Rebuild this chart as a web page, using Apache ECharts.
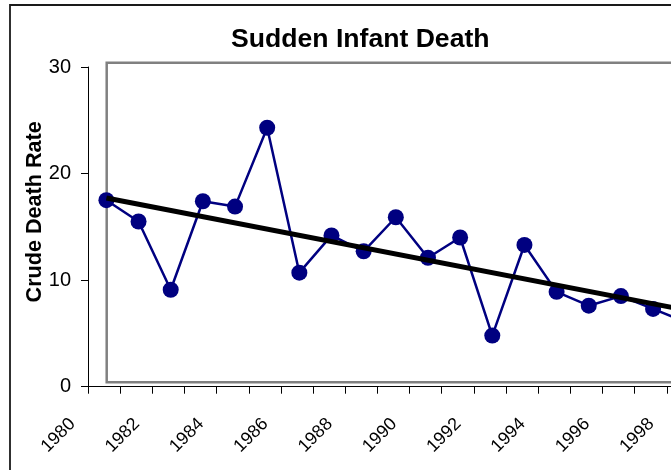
<!DOCTYPE html>
<html>
<head>
<meta charset="utf-8">
<script src="https://cdn.jsdelivr.net/npm/echarts@6/dist/echarts.min.js"></script>
<style>
html,body{margin:0;padding:0;background:#fff;}
#c{width:671px;height:470px;}
</style>
</head>
<body>
<div id="c"></div>
<script>
// ---- data ----
const titleText = 'Sudden Infant Death';
const yTitle = 'Crude Death Rate';
const years = [1981,1982,1983,1984,1985,1986,1987,1988,1989,1990,1991,1992,1993,1994,1995,1996,1997,1998,1999];
const rates = [17.5,15.5,9.1,17.4,16.9,24.3,10.7,14.2,12.7,15.9,12.1,14.0,4.8,13.3,8.9,7.6,8.5,7.3,6.1];
const trendYears = [1981, 1999];
const trendRates = [17.7, 7.2];
const xAxisMin = 1980, xAxisMax = 1999;
const yAxisMin = 0, yAxisMax = 30, yStep = 10;

const FONT = 'Liberation Sans, Arial, sans-serif';
const dataShift = 0.572; // plotted points sit this far right of the labelled tick

const chart = echarts.init(document.getElementById('c'), null, {renderer:'canvas'});
chart.setOption({
  animation:false,
  backgroundColor:'#fff',
  title:{
    text:titleText, left:231, top:26.5, padding:0,
    textStyle:{fontFamily:FONT, fontSize:26.6, fontWeight:'bold', color:'#000'}
  },
  graphic:[{
    type:'rect', shape:{x:10, y:5, width:720, height:520},
    style:{fill:'none', stroke:'#1a1a1a', lineWidth:1.8}, z:-1, silent:true
  }],
  grid:[
    {left:88, top:67, bottom:83.3, right:-28, containLabel:false, outerBoundsMode:'none'},
    {left:106.7, top:62.8, bottom:87.7, right:-60, show:true, borderColor:'#808080', borderWidth:2.5,
     backgroundColor:'transparent', outerBoundsMode:'none'}
  ],
  xAxis:[
    {type:'value', gridIndex:0, min:xAxisMin, max:xAxisMax, interval:1,
     axisLine:{show:true, lineStyle:{color:'#000', width:1}},
     axisTick:{show:true, inside:false, length:7, lineStyle:{color:'#000'}},
     splitLine:{show:false},
     axisLabel:{show:true, rotate:45, margin:19, padding:[0,22,0,0],
       fontFamily:FONT, fontSize:18, color:'#000',
       formatter:function(v){ return (v % 2 === 0) ? String(v) : ''; }}
    },
    {type:'value', gridIndex:0, show:false, min:xAxisMin + 1 - dataShift, max:xAxisMax + 1 - dataShift},
    {type:'value', gridIndex:1, show:false, min:0, max:1}
  ],
  yAxis:[
    {type:'value', gridIndex:0, min:yAxisMin, max:yAxisMax, interval:yStep,
     name:yTitle, nameLocation:'middle', nameRotate:90, nameGap:42, nameMoveOverlap:false,
     nameTextStyle:{fontFamily:FONT, fontSize:21.6, fontWeight:'bold', color:'#000', padding:[0,0,0,30]},
     axisLine:{show:true, lineStyle:{color:'#000', width:1}},
     axisTick:{show:true, inside:false, length:7, lineStyle:{color:'#000'}},
     splitLine:{show:false},
     axisLabel:{margin:17, fontFamily:FONT, fontSize:20, color:'#000'}
    },
    {type:'value', gridIndex:1, show:false, min:0, max:1}
  ],
  series:[
    {type:'line', xAxisIndex:1, yAxisIndex:0,
     data:years.map((y,i)=>[y, rates[i]]),
     lineStyle:{color:'#000080', width:2.5},
     itemStyle:{color:'#000080'},
     symbol:'circle', symbolSize:16, showSymbol:true, z:3},
    {type:'line', xAxisIndex:1, yAxisIndex:0,
     data:trendYears.map((y,i)=>[y, trendRates[i]]),
     lineStyle:{color:'#000', width:5},
     symbol:'none', z:4}
  ]
});
</script>
</body>
</html>
